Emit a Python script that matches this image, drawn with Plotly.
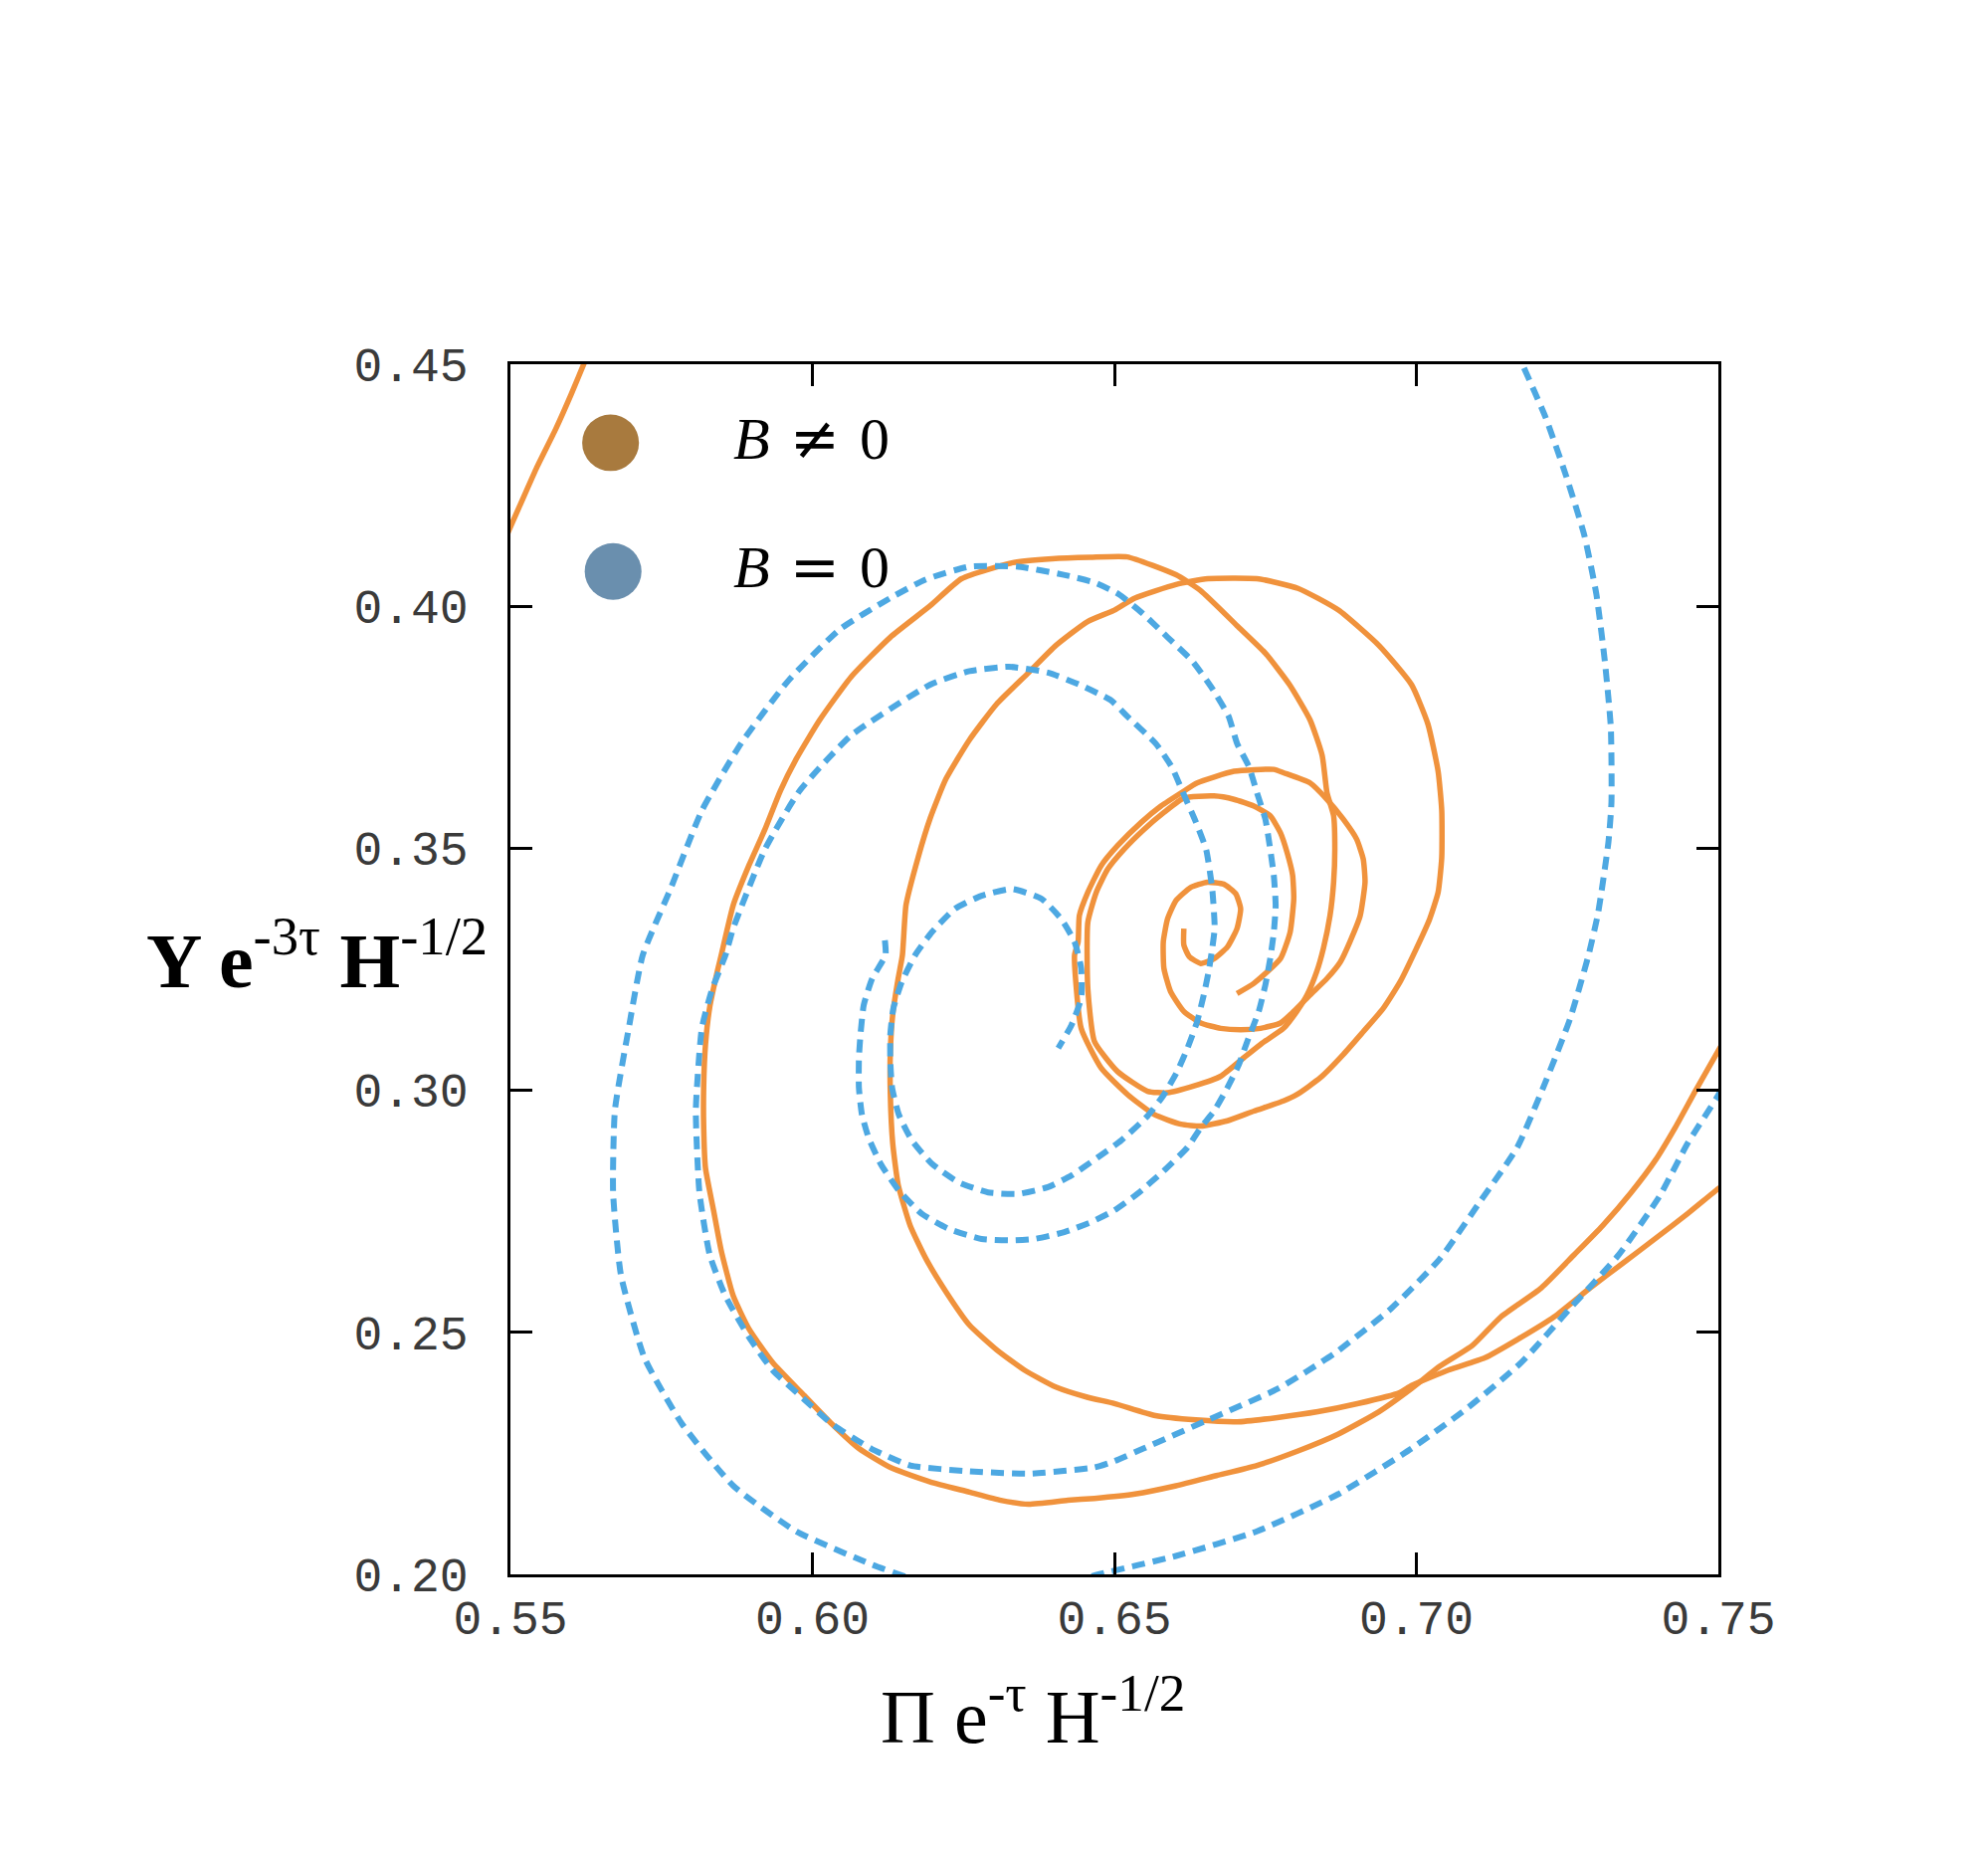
import plotly.graph_objects as go

# B != 0 trajectory (orange), pieces visible inside the frame
orange_a_x = [0.7521, 0.7500, 0.7463, 0.7429, 0.7396, 0.7355, 0.7308, 0.7261, 0.7207, 0.7140,
              0.7093, 0.7039, 0.6992, 0.6938, 0.6871, 0.6804, 0.6736, 0.6669, 0.6602, 0.6534,
              0.6467, 0.6423, 0.6358, 0.6312, 0.6260, 0.6195, 0.6129, 0.6077, 0.6032, 0.5986,
              0.5934, 0.5895, 0.5869, 0.5849, 0.5836, 0.5823, 0.5820, 0.5820, 0.5823, 0.5830,
              0.5843, 0.5849, 0.5869, 0.5895, 0.5921, 0.5947, 0.5973, 0.6012, 0.6064, 0.6129,
              0.6195, 0.6247, 0.6332, 0.6397, 0.6460, 0.6521, 0.6602, 0.6642, 0.6703, 0.6750,
              0.6790, 0.6824, 0.6844, 0.6852, 0.6863, 0.6865, 0.6863, 0.6857, 0.6846, 0.6835,
              0.6819, 0.6802, 0.6780, 0.6744, 0.6714, 0.6676, 0.6632, 0.6588, 0.6555, 0.6505,
              0.6467, 0.6456, 0.6456, 0.6470, 0.6489, 0.6516, 0.6549, 0.6582, 0.6615, 0.6665,
              0.6698, 0.6731, 0.6758, 0.6775, 0.6786, 0.6795, 0.6797, 0.6791, 0.6775, 0.6731,
              0.6703]
orange_a_y = [0.3126, 0.3082, 0.3001, 0.2924, 0.2856, 0.2788, 0.2720, 0.2660, 0.2592, 0.2532,
              0.2473, 0.2430, 0.2384, 0.2336, 0.2290, 0.2255, 0.2225, 0.2204, 0.2183, 0.2166,
              0.2157, 0.2153, 0.2145, 0.2153, 0.2170, 0.2191, 0.2221, 0.2260, 0.2311, 0.2370,
              0.2438, 0.2507, 0.2575, 0.2669, 0.2754, 0.2839, 0.2924, 0.3010, 0.3095, 0.3172,
              0.3248, 0.3279, 0.3383, 0.3465, 0.3538, 0.3619, 0.3684, 0.3765, 0.3854, 0.3936,
              0.4001, 0.4057, 0.4090, 0.4098, 0.4101, 0.4102, 0.4065, 0.4033, 0.3960, 0.3903,
              0.3838, 0.3765, 0.3692, 0.3615, 0.3567, 0.3498, 0.3430, 0.3361, 0.3293, 0.3245,
              0.3197, 0.3163, 0.3128, 0.3097, 0.3067, 0.3029, 0.3009, 0.2995, 0.2998, 0.3039,
              0.3101, 0.3210, 0.3347, 0.3409, 0.3457, 0.3498, 0.3539, 0.3574, 0.3604, 0.3608,
              0.3601, 0.3587, 0.3567, 0.3532, 0.3491, 0.3445, 0.3396, 0.3327, 0.3272, 0.3221,
              0.3200]

orange_b_x = [0.7527, 0.7500, 0.7450, 0.7396, 0.7342, 0.7288, 0.7228, 0.7174, 0.7113, 0.7053,
              0.6992, 0.6972, 0.6904, 0.6837, 0.6770, 0.6703, 0.6635, 0.6568, 0.6500, 0.6455,
              0.6403, 0.6351, 0.6305, 0.6260, 0.6221, 0.6188, 0.6162, 0.6142, 0.6133, 0.6129,
              0.6129, 0.6133, 0.6142, 0.6149, 0.6155, 0.6175, 0.6195, 0.6221, 0.6260, 0.6305,
              0.6358, 0.6403, 0.6455, 0.6500, 0.6534, 0.6602, 0.6655, 0.6736, 0.6804, 0.6871,
              0.6938, 0.6992, 0.7019, 0.7036, 0.7042, 0.7042, 0.7036, 0.7022, 0.7000, 0.6973,
              0.6945, 0.6912, 0.6879, 0.6841, 0.6802, 0.6780, 0.6731, 0.6687, 0.6643, 0.6610,
              0.6566, 0.6522, 0.6478, 0.6445, 0.6434, 0.6440, 0.6442, 0.6456, 0.6478, 0.6505,
              0.6544, 0.6577, 0.6615, 0.6637, 0.6698, 0.6764, 0.6780, 0.6824, 0.6852, 0.6879,
              0.6901, 0.6912, 0.6915, 0.6907, 0.6890, 0.6874, 0.6852, 0.6824, 0.6797, 0.6775,
              0.6742, 0.6709, 0.6676, 0.6643, 0.6615, 0.6593, 0.6582, 0.6581, 0.6588, 0.6602,
              0.6626, 0.6654, 0.6681, 0.6701, 0.6709, 0.6703, 0.6687, 0.6665, 0.6643, 0.6624,
              0.6615, 0.6615]
orange_b_y = [0.2822, 0.2797, 0.2746, 0.2694, 0.2643, 0.2592, 0.2532, 0.2490, 0.2447, 0.2422,
              0.2390, 0.2375, 0.2353, 0.2336, 0.2324, 0.2315, 0.2319, 0.2328, 0.2353, 0.2366,
              0.2387, 0.2422, 0.2464, 0.2515, 0.2584, 0.2652, 0.2720, 0.2805, 0.2890, 0.2993,
              0.3078, 0.3157, 0.3231, 0.3279, 0.3383, 0.3481, 0.3562, 0.3643, 0.3724, 0.3798,
              0.3863, 0.3919, 0.3968, 0.3992, 0.4017, 0.4045, 0.4057, 0.4057, 0.4037, 0.3992,
              0.3919, 0.3838, 0.3757, 0.3659, 0.3578, 0.3481, 0.3409, 0.3354, 0.3293, 0.3224,
              0.3169, 0.3121, 0.3074, 0.3026, 0.2991, 0.2978, 0.2957, 0.2937, 0.2926, 0.2930,
              0.2950, 0.2991, 0.3046, 0.3128, 0.3279, 0.3307, 0.3361, 0.3409, 0.3464, 0.3505,
              0.3553, 0.3587, 0.3618, 0.3635, 0.3659, 0.3663, 0.3656, 0.3635, 0.3601, 0.3560,
              0.3519, 0.3478, 0.3430, 0.3361, 0.3307, 0.3265, 0.3231, 0.3197, 0.3163, 0.3139,
              0.3128, 0.3125, 0.3128, 0.3139, 0.3163, 0.3204, 0.3252, 0.3307, 0.3354, 0.3392,
              0.3419, 0.3430, 0.3426, 0.3406, 0.3375, 0.3334, 0.3296, 0.3272, 0.3262, 0.3276,
              0.3300, 0.3334]

orange_c_x = [0.5490, 0.5497, 0.5517, 0.5543, 0.5575, 0.5601, 0.5624, 0.5630]
orange_c_y = [0.4131, 0.4155, 0.4212, 0.4285, 0.4366, 0.4439, 0.4508, 0.4526]

# B = 0 trajectory (blue, dashed)
blue_a_x = [0.6120, 0.6121, 0.6099, 0.6085, 0.6080, 0.6077, 0.6077, 0.6082, 0.6093, 0.6113,
            0.6143, 0.6181, 0.6225, 0.6280, 0.6330, 0.6368, 0.6417, 0.6462, 0.6500, 0.6538,
            0.6582, 0.6621, 0.6643, 0.6665, 0.6687, 0.6706, 0.6720, 0.6739, 0.6750, 0.6758,
            0.6764, 0.6767, 0.6764, 0.6758, 0.6750, 0.6736, 0.6723, 0.6703, 0.6689, 0.6662,
            0.6629, 0.6588, 0.6548, 0.6507, 0.6467, 0.6416, 0.6338, 0.6260, 0.6187, 0.6129,
            0.6045, 0.5960, 0.5882, 0.5817, 0.5765, 0.5719, 0.5696, 0.5673, 0.5670, 0.5683,
            0.5722, 0.5784, 0.5869, 0.5973, 0.6097, 0.6155, 0.6197]
blue_a_y = [0.3310, 0.3279, 0.3231, 0.3176, 0.3121, 0.3067, 0.3005, 0.2950, 0.2902, 0.2848,
            0.2793, 0.2745, 0.2714, 0.2693, 0.2690, 0.2693, 0.2707, 0.2728, 0.2752, 0.2786,
            0.2834, 0.2882, 0.2923, 0.2957, 0.3005, 0.3053, 0.3101, 0.3163, 0.3218, 0.3272,
            0.3327, 0.3382, 0.3443, 0.3498, 0.3560, 0.3615, 0.3668, 0.3717, 0.3773, 0.3830,
            0.3887, 0.3936, 0.3984, 0.4025, 0.4049, 0.4065, 0.4082, 0.4082, 0.4055, 0.4017,
            0.3952, 0.3846, 0.3717, 0.3578, 0.3416, 0.3279, 0.3129, 0.2959, 0.2788, 0.2618,
            0.2447, 0.2311, 0.2183, 0.2089, 0.2021, 0.1995, 0.1979]

blue_b_x = [0.6429, 0.6474, 0.6602, 0.6736, 0.6871, 0.6992, 0.7086, 0.7174, 0.7254, 0.7335,
            0.7402, 0.7449, 0.7497, 0.7521]
blue_b_y = [0.1984, 0.2000, 0.2038, 0.2089, 0.2166, 0.2260, 0.2345, 0.2438, 0.2549, 0.2660,
            0.2780, 0.2890, 0.2984, 0.3037]

blue_c_x = [0.7164, 0.7174, 0.7214, 0.7248, 0.7278, 0.7298, 0.7312, 0.7322, 0.7323, 0.7318,
            0.7301, 0.7285, 0.7254, 0.7214, 0.7167, 0.7106, 0.7039, 0.6958, 0.6864, 0.6770,
            0.6655, 0.6548, 0.6500, 0.6467, 0.6358, 0.6260, 0.6162, 0.6097, 0.6032, 0.5986,
            0.5934, 0.5895, 0.5856, 0.5830, 0.5813, 0.5807, 0.5817, 0.5834, 0.5856, 0.5869,
            0.5921, 0.5979, 0.6064, 0.6195, 0.6260, 0.6325, 0.6390, 0.6442, 0.6494, 0.6521,
            0.6568, 0.6595, 0.6615, 0.6635, 0.6652, 0.6662, 0.6666, 0.6662, 0.6656, 0.6648,
            0.6637, 0.6621, 0.6604, 0.6582, 0.6555, 0.6511, 0.6472, 0.6429, 0.6390, 0.6341,
            0.6291, 0.6242, 0.6198, 0.6165, 0.6143, 0.6132, 0.6129, 0.6129, 0.6134, 0.6148,
            0.6170, 0.6198, 0.6236, 0.6280, 0.6330, 0.6379, 0.6412, 0.6434, 0.6445, 0.6445,
            0.6429, 0.6407]
blue_c_y = [0.4531, 0.4504, 0.4390, 0.4269, 0.4147, 0.4025, 0.3887, 0.3749, 0.3595, 0.3513,
            0.3367, 0.3279, 0.3146, 0.3018, 0.2882, 0.2771, 0.2652, 0.2549, 0.2456, 0.2383,
            0.2319, 0.2260, 0.2234, 0.2221, 0.2208, 0.2213, 0.2225, 0.2260, 0.2311, 0.2362,
            0.2422, 0.2490, 0.2575, 0.2660, 0.2788, 0.2959, 0.3129, 0.3209, 0.3279, 0.3335,
            0.3497, 0.3619, 0.3733, 0.3838, 0.3866, 0.3875, 0.3863, 0.3838, 0.3806, 0.3773,
            0.3717, 0.3668, 0.3611, 0.3554, 0.3497, 0.3416, 0.3335, 0.3293, 0.3245, 0.3197,
            0.3142, 0.3087, 0.3039, 0.2991, 0.2947, 0.2896, 0.2861, 0.2824, 0.2800, 0.2786,
            0.2789, 0.2810, 0.2848, 0.2896, 0.2950, 0.3005, 0.3060, 0.3115, 0.3169, 0.3224,
            0.3279, 0.3327, 0.3375, 0.3402, 0.3416, 0.3396, 0.3354, 0.3307, 0.3252, 0.3190,
            0.3135, 0.3087]

x_ticks = [0.55, 0.60, 0.65, 0.70, 0.75]
y_ticks = [0.20, 0.25, 0.30, 0.35, 0.40, 0.45]
legend_relations = ["\u2260", "="]

ORANGE = "#F0923C"
BLUE = "#4DA8E2"
DOT_COLORS = ["#A87A3E", "#6A8FAE"]


def joined(pieces):
    xs, ys = [], []
    for px, py in pieces:
        xs += list(px) + [None]
        ys += list(py) + [None]
    return xs, ys


fig = go.Figure()

ox, oy = joined([(orange_a_x, orange_a_y), (orange_b_x, orange_b_y), (orange_c_x, orange_c_y)])
fig.add_trace(go.Scatter(x=ox, y=oy, mode="lines", name="B≠0",
                         line=dict(color=ORANGE, width=5.5, shape="spline", smoothing=0.5),
                         connectgaps=False, showlegend=False))

bx, by = joined([(blue_a_x, blue_a_y), (blue_b_x, blue_b_y), (blue_c_x, blue_c_y)])
fig.add_trace(go.Scatter(x=bx, y=by, mode="lines", name="B=0",
                         line=dict(color=BLUE, width=6, dash="13px,8px", shape="spline", smoothing=0.5),
                         connectgaps=False, showlegend=False))

axis_common = dict(
    showline=True, linecolor="black", linewidth=2.5, mirror="allticks",
    ticks="inside", ticklen=22, tickwidth=2.5, tickcolor="black",
    showgrid=False, zeroline=False, tickformat=".2f",
    tickfont=dict(family="Liberation Mono", size=48, color="#3a3a3a"),
)
fig.update_xaxes(range=[0.55, 0.75], tickvals=x_ticks, ticklabelstandoff=0, **axis_common)
fig.update_yaxes(range=[0.20, 0.45], tickvals=y_ticks, ticklabelstandoff=30, **axis_common)

# legend: big dots + math-style labels
dot_y = [0.9351, 0.8288]
dot_x = [0.0829, 0.0850]
for i in range(2):
    fig.add_shape(type="circle", xref="paper", yref="paper",
                  x0=dot_x[i] - 0.0235, x1=dot_x[i] + 0.0235,
                  y0=dot_y[i] - 0.0234, y1=dot_y[i] + 0.0234,
                  fillcolor=DOT_COLORS[i], line=dict(width=0))
    label = ("<i>B</i>\u2004<span style='font-family:DejaVu Serif'>" + legend_relations[i]
             + "</span>\u20040")
    fig.add_annotation(xref="paper", yref="paper", x=0.1826, y=dot_y[i] + 0.004,
                       xanchor="left", yanchor="middle", showarrow=False,
                       text=label,
                       font=dict(family="Liberation Serif", size=60, color="black"))

# axis titles
fig.add_annotation(xref="paper", yref="paper", x=0.4324, y=-0.113,
                   xanchor="center", yanchor="middle", showarrow=False,
                   text="Π e<sup>-τ</sup> H<sup>-1/2</sup>",
                   font=dict(family="Liberation Serif", size=76, color="black"))
fig.add_annotation(xref="paper", yref="paper", x=-0.0177, y=0.512,
                   xanchor="right", yanchor="middle", showarrow=False,
                   text="<b>Y e</b><sup>-3τ</sup><b> H</b><sup>-1/2</sup>",
                   font=dict(family="Liberation Serif", size=78, color="black"))

fig.update_layout(
    width=1998, height=1862, autosize=False,
    margin=dict(l=513, r=271, t=366, b=280),
    paper_bgcolor="white", plot_bgcolor="white",
    showlegend=False,
)

fig.write_html("out.html", config={"displayModeBar": False},
               post_script="document.body.style.margin='0';")
